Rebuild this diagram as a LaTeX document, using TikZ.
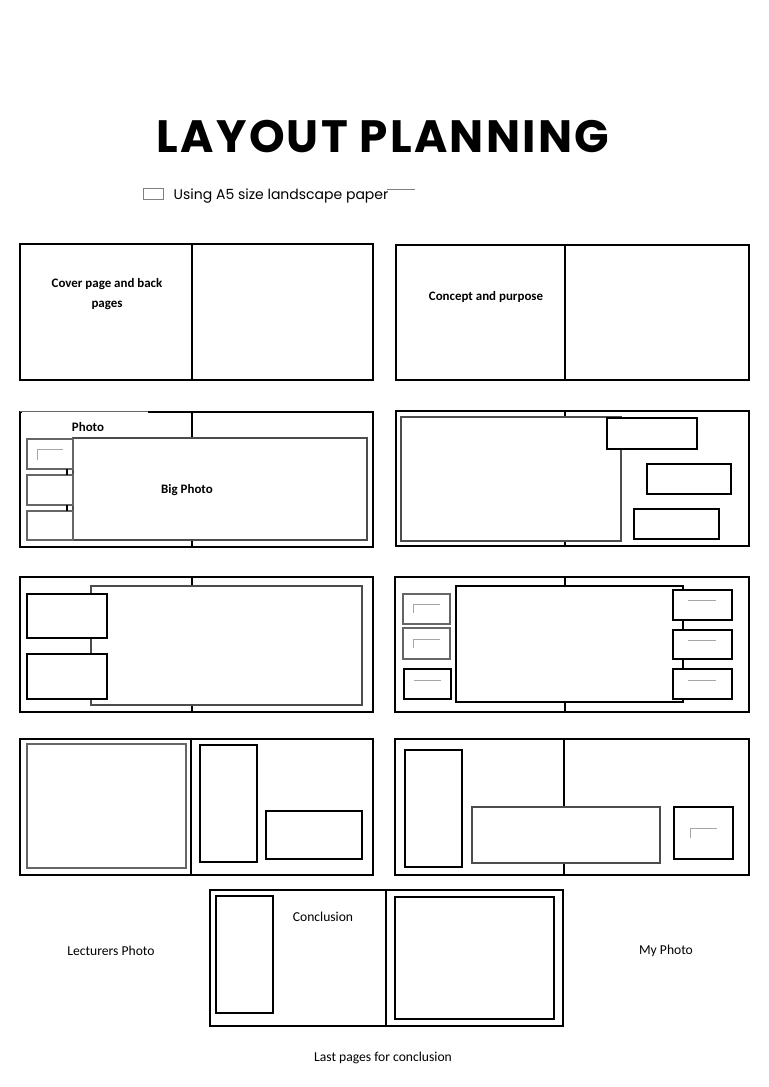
\documentclass[tikz,border=0pt]{standalone}
\usepackage{fontspec}
\setmainfont{Carlito}
\newfontfamily\comicfont{Poppins}
\newfontfamily\comicwide{Poppins}[LetterSpace=5]
\tikzset{
  spread/.style={draw, line width=1.7pt},
  fold/.style={line width=1.7pt},
  photo/.style={draw, fill=white, line width=0.8pt},
  greyphoto/.style={draw=black!60, fill=white, line width=1.1pt},
  blank/.style={draw=black!35, line width=0.5pt},
  label/.style={font=\fontsize{9.7}{15}\selectfont\bfseries, align=center},
  plain/.style={font=\fontsize{10.2}{12}\selectfont},
}
\begin{document}
\begin{tikzpicture}[x=0.75pt,y=-0.75pt]
    \useasboundingbox (0,0) rectangle (768,1087);
    % title
    \node[font=\comicwide\fontsize{34}{38}\selectfont\bfseries] (title) at (383,137) {LAYOUT PLANNING};
    \draw[blank, draw=black!50] (143,188) rectangle (163,199);
    \node[font=\comicfont\fontsize{10.5}{12}\selectfont, anchor=west] (paper) at (169,196) {Using A5 size landscape paper};
    \draw[blank, draw=black!50] (387,189) -- (415,189);
    % spread 1: cover and concept
    \draw[spread] (20,244) rectangle (373,380);
    \draw[fold] (192,244) -- (192,380);
    \node[label] (cover) at (107,294) {Cover page and back\\pages};
    \draw[spread] (396,245) rectangle (749,380);
    \draw[fold] (565,245) -- (565,380);
    \node[label] (concept) at (486,297) {Concept and purpose};
    % spread 2: big photo with small photos
    \draw[spread] (20,412) rectangle (373,547);
    \draw[fold] (192,412) -- (192,547);
    \draw[draw=white, line width=1.2pt] (22,412) -- (148,412);
    \draw[draw=black!60, line width=0.6pt] (20,411.5) -- (148,411.5);
    \node[label] (photo) at (88,427) {Photo};
    \draw[photo, draw=black!70] (73,438) rectangle (367,540);
    \node[label] (bigphoto) at (187,490) {Big Photo};
    \draw[greyphoto] (27,439) rectangle (73,469);
    \draw[greyphoto] (27,475) rectangle (73,505);
    \draw[greyphoto] (27,511) rectangle (73,540);
    \draw[line width=0.8pt] (67,469) -- (67,475) (67,505) -- (67,511);
    \draw[blank] (37,460) -- (37,449) -- (63,449);
    % spread 2: right
    \draw[spread] (396,411) rectangle (749,546);
    \draw[fold] (565,411) -- (565,546);
    \draw[greyphoto, draw=black!70] (401,417) rectangle (621,541);
    \draw[photo] (607,418) rectangle (697,449);
    \draw[photo] (647,464) rectangle (731,494);
    \draw[photo] (634,509) rectangle (719,539);
    % spread 3: left
    \draw[spread] (20,577) rectangle (373,712);
    \draw[fold] (192,577) -- (192,712);
    \draw[greyphoto, draw=black!70] (91,586) rectangle (362,705);
    \draw[photo] (27,594) rectangle (107,638);
    \draw[photo] (27,654) rectangle (107,699);
    % spread 3: right
    \draw[spread] (395,577) rectangle (749,712);
    \draw[fold] (565,577) -- (565,712);
    \draw[photo] (456,586) rectangle (683,702);
    \foreach \ytop/\ybot in {594/624, 628/659}
      \draw[greyphoto] (403,\ytop) rectangle (450,\ybot);
    \draw[photo] (404,669) rectangle (451,699);
    \foreach \ytop/\ybot in {590/620, 630/659, 669/699}
      \draw[photo] (673,\ytop) rectangle (732,\ybot);
    \draw[blank] (413,613) -- (413,604) -- (440,604);
    \draw[blank] (413,648) -- (413,639) -- (440,639);
    \draw[blank] (414,680) -- (441,680);
    \foreach \ym in {600, 640, 680}
      \draw[blank] (688,\ym) -- (716,\ym);
    % spread 4: left
    \draw[spread] (20,739) rectangle (373,875);
    \draw[fold] (191,739) -- (191,875);
    \draw[greyphoto, line width=1.5pt] (27,744) rectangle (186,868);
    \draw[photo] (200,745) rectangle (257,862);
    \draw[photo] (266,811) rectangle (362,859);
    % spread 4: right
    \draw[spread] (395,739) rectangle (749,875);
    \draw[fold] (564,739) -- (564,875);
    \draw[photo] (405,750) rectangle (462,867);
    \draw[greyphoto, draw=black!70] (472,807) rectangle (660,863);
    \draw[photo] (674,807) rectangle (733,859);
    \draw[blank] (690,838) -- (690,828) -- (717,828);
    % last spread: conclusion
    \draw[spread] (210,890) rectangle (563,1026);
    \draw[fold] (386,890) -- (386,1026);
    \draw[photo] (216,896) rectangle (273,1013);
    \draw[photo] (395,897) rectangle (554,1019);
    \node[plain] (conclusion) at (323,917) {Conclusion};
    \node[plain] (lecturer) at (111,951) {Lecturers Photo};
    \node[plain] (myphoto) at (666,951) {My Photo};
    \node[plain] (lastpages) at (383,1058) {Last pages for conclusion};
\end{tikzpicture}
\end{document}
